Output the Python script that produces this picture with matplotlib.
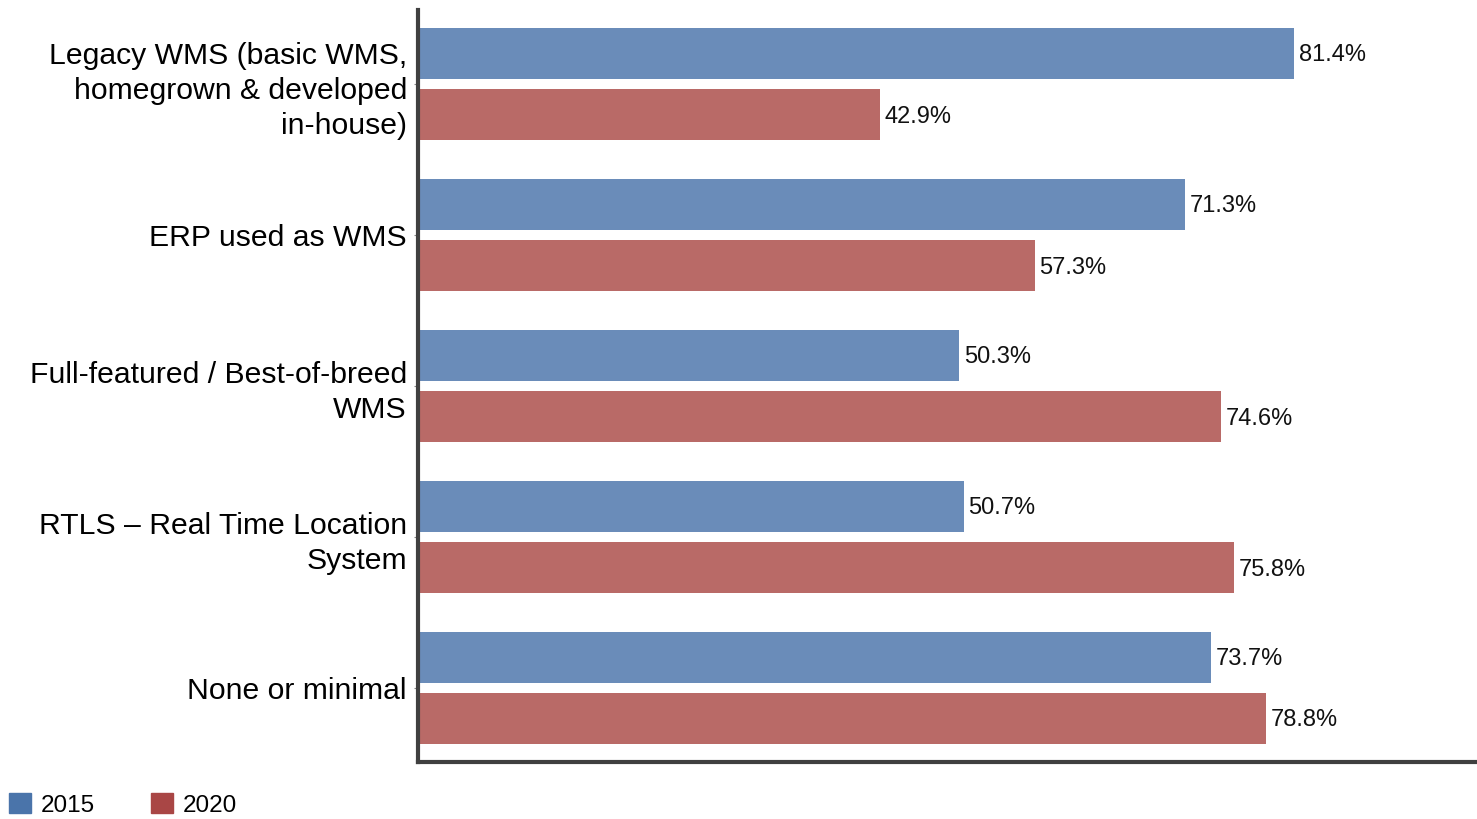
import numpy as np
import matplotlib.pyplot as plt
from matplotlib.patches import Patch

plt.rcParams['font.family'] = ['Liberation Sans', 'DejaVu Sans']

categories = ["Legacy WMS (basic WMS,\nhomegrown & developed\nin-house)",
              "ERP used as WMS",
              "Full-featured / Best-of-breed\nWMS",
              "RTLS \u2013 Real Time Location\nSystem",
              "None or minimal"]
years = ["2015", "2020"]
vals_2015 = [81.4, 71.3, 50.3, 50.7, 73.7]
vals_2020 = [42.9, 57.3, 74.6, 75.8, 78.8]

BAR_COLORS = ["#6a8cb9", "#b96a67"]
LEG_COLORS = ["#4a74aa", "#a94645"]
SPINE = "#404040"

fig = plt.figure(figsize=(14.77, 8.19), dpi=100)
ax = fig.add_axes([0.283, 0.0696, 0.717, 0.918])

y = np.arange(len(categories))
off = 0.203
h = 0.335
for vals, dy, col in [(vals_2015, -off, BAR_COLORS[0]), (vals_2020, off, BAR_COLORS[1])]:
    bars = ax.barh(y + dy, vals, height=h, color=col)
    for b, v in zip(bars, vals):
        ax.text(v + 0.45, b.get_y() + b.get_height() / 2 + 0.012, f"{v:.1f}%",
                va="center", ha="left", fontsize=17, color="#111111")

ax.set_yticks(y)
ax.set_yticklabels(categories, fontsize=21.7, linespacing=1.32, ha="right")
ax.set_xlim(0, 98.4)
ax.set_ylim(len(categories) - 0.51, -0.49)
ax.set_xticks([])
ax.tick_params(axis="y", length=3, width=0.8, color="#888888", pad=5)

for s in ["top", "right"]:
    ax.spines[s].set_visible(False)
for s in ["left", "bottom"]:
    ax.spines[s].set_color(SPINE)
    ax.spines[s].set_linewidth(3)

handles = [Patch(color=c, label=l) for c, l in zip(LEG_COLORS, years)]
fig.legend(handles=handles, loc="lower left", bbox_to_anchor=(0.006, 0.003),
           ncol=2, frameon=False, fontsize=17.5, handlelength=0.93, handleheight=0.93,
           handletextpad=0.38, columnspacing=2.3, borderaxespad=0, borderpad=0)

fig.savefig("out.png", dpi=100)
